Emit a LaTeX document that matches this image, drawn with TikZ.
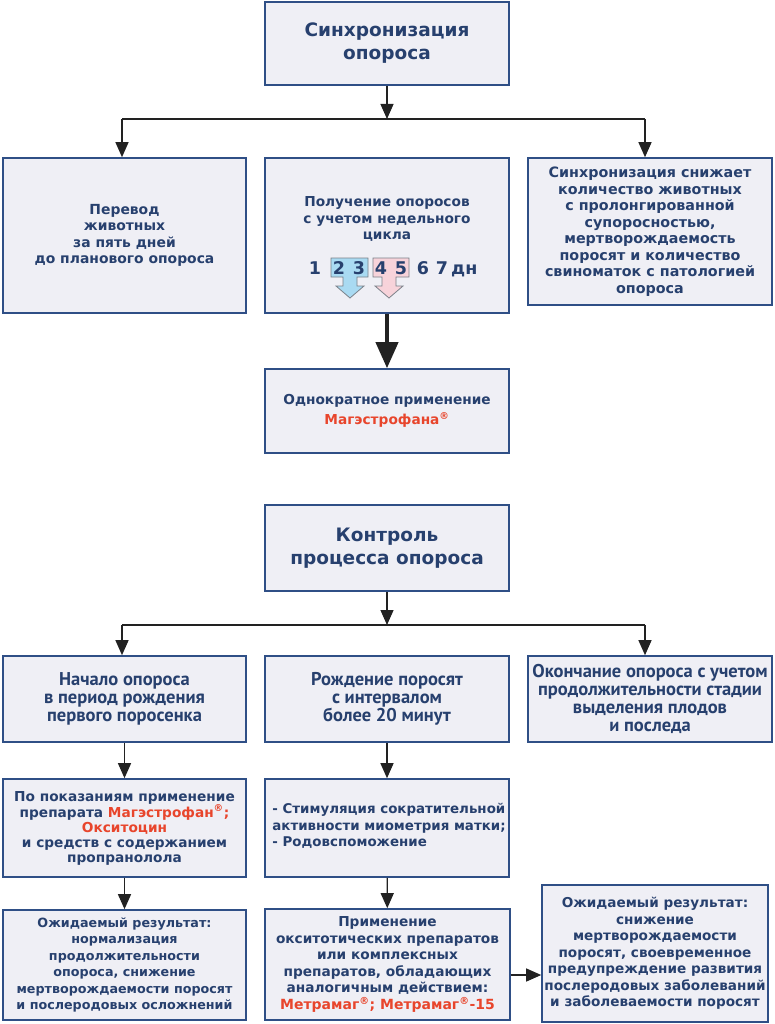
\documentclass[tikz,border=0pt]{standalone}
\usepackage{fontspec}
\setmainfont{DejaVu Sans}
\newfontfamily\condfont{PT Sans}
\usetikzlibrary{arrows.meta}
\definecolor{navy}{HTML}{27406E}
\definecolor{boxline}{HTML}{2F4F86}
\definecolor{boxfill}{HTML}{EFEFF5}
\definecolor{accent}{HTML}{E8452C}
\definecolor{arrowc}{HTML}{222222}
\definecolor{dayblue}{HTML}{A9DAF2}
\definecolor{daypink}{HTML}{F7D3DA}
\definecolor{dayedge}{HTML}{7A8088}
\begin{document}
\begin{tikzpicture}[x=1pt,y=-1pt,
  box/.style={draw=boxline, line width=1.6pt, fill=boxfill, inner sep=0pt},
  txt/.style={text=navy, font=\bfseries\fontsize{#1}{16.5}\selectfont, align=center},
  txt/.default=13.5,
  ttl/.style={text=navy, font=\bfseries\fontsize{18.5}{23}\selectfont, align=center},
  ctxt/.style={text=navy, font=\condfont\bfseries\fontsize{18.5}{18}\selectfont, align=center},
  dig/.style={text=navy, font=\bfseries\fontsize{17.5}{17.5}\selectfont, anchor=base, inner sep=0pt},
  conn/.style={draw=arrowc, line width=1.2pt},
  arr/.style={conn, -{Triangle[length=15pt,width=13pt]}},
  bigarr/.style={draw=arrowc, line width=4pt, -{Triangle[length=26pt,width=22pt]}},
  dayshape/.style={draw=dayedge, line width=0.8pt}
]
\useasboundingbox (0,0) rectangle (774,1024);

% ---------- part 1 ----------
\node[box, ttl, minimum width=244pt, minimum height=83pt] (top) at (387,43.5) {Синхронизация\\опороса};

\node[box, txt=13.9, minimum width=243pt, minimum height=155pt] (L1) at (124.5,235.5) {Перевод\\животных\\за пять дней\\до планового опороса};
\node[box, minimum width=244pt, minimum height=155pt] (M1) at (387,235.5) {};
\node[txt=13.7] (M1t) at (387,219) {Получение опоросов\\с учетом недельного\\цикла};
\node[box, txt=14.3, minimum width=244pt, minimum height=147pt] (R1) at (650,231.5) {Синхронизация снижает\\количество животных\\с пролонгированной\\супоросностью,\\мертворождаемость\\поросят и количество\\свиноматок с патологией\\опороса};

% days row
\filldraw[dayshape, fill=dayblue] (331,258) -- (368,258) -- (368,277) -- (357,277) -- (357,286) -- (364,286) -- (350,298) -- (336,286) -- (343,286) -- (343,277) -- (331,277) -- cycle;
\filldraw[dayshape, fill=daypink] (373,258) -- (409,258) -- (409,277) -- (396,277) -- (396,286) -- (403,286) -- (389,298) -- (375,286) -- (382,286) -- (382,277) -- (373,277) -- cycle;
\node[dig] (d1) at (315,274) {1};
\node[dig] (d2) at (339,274) {2};
\node[dig] (d3) at (359,274) {3};
\node[dig] (d4) at (381,274) {4};
\node[dig] (d5) at (401,274) {5};
\node[dig] (d6) at (423,274) {6};
\node[dig] (d7) at (442,274) {7};
\node[dig, anchor=base west] (dn) at (451,274) {дн};

\node[box, text=navy, align=center, font=\bfseries\fontsize{13.7}{20}\selectfont, minimum width=244pt, minimum height=84pt] (mag) at (387,411) {Однократное применение\\\textcolor{accent}{Магэстрофана\textsuperscript{®}}};

\coordinate (j1) at (387,119);
\coordinate (j1l) at (122,119);
\coordinate (j1r) at (645,119);
\draw[arr] (top) -- (j1);
\draw[conn] (j1l) -- (j1r);
\draw[arr] (j1l) -- (j1l |- L1.north);
\draw[arr] (j1r) -- (j1r |- R1.north);
\draw[bigarr] (M1) -- (mag);

% ---------- part 2 ----------
\node[box, ttl, minimum width=244pt, minimum height=86pt] (ctrl) at (387,548) {Контроль\\процесса опороса};

\node[box, ctxt, minimum width=243pt, minimum height=86pt] (L2) at (124.5,699) {Начало опороса\\в период рождения\\первого поросенка};
\node[box, ctxt, minimum width=244pt, minimum height=86pt] (M2) at (387,699) {Рождение поросят\\с интервалом\\более 20 минут};
\node[box, ctxt, minimum width=244pt, minimum height=86pt] (R2) at (650,699) {Окончание опороса с учетом\\продолжительности стадии\\выделения плодов\\и последа};

\node[box, text=navy, align=center, font=\bfseries\fontsize{13.7}{15}\selectfont, minimum width=243pt, minimum height=98pt] (L3) at (124.5,828) {По показаниям применение\\препарата \textcolor{accent}{Магэстрофан\textsuperscript{®};}\\\textcolor{accent}{Окситоцин}\\и средств с содержанием\\пропранолола};
\node[box, minimum width=244pt, minimum height=98pt] (M3) at (387,828) {};
\node[txt=13.4, align=left] (M3t) at (389,826) {- Стимуляция сократительной\\активности миометрия матки;\\- Родовспоможение};

\node[box, txt=12.7, minimum width=243pt, minimum height=110pt] (L4) at (124.5,965) {Ожидаемый результат:\\нормализация\\продолжительности\\опороса, снижение\\мертворождаемости поросят\\и послеродовых осложнений};
\node[box, txt=13.7, minimum width=245pt, minimum height=111pt] (M4) at (387.5,964.5) {Применение\\окситотических препаратов\\или комплексных\\препаратов, обладающих\\аналогичным действием:\\\textcolor{accent}{\fontsize{14}{16.5}\selectfont Метрамаг\textsuperscript{®}; Метрамаг\textsuperscript{®}-15}};
\node[box, txt=13.6, minimum width=226pt, minimum height=137pt] (R4) at (655,953.5) {Ожидаемый результат:\\снижение\\мертворождаемости\\поросят, своевременное\\предупреждение развития\\послеродовых заболеваний\\и заболеваемости поросят};

\coordinate (j2) at (387,625);
\coordinate (j2l) at (122,625);
\coordinate (j2r) at (645,625);
\draw[arr] (ctrl) -- (j2);
\draw[conn] (j2l) -- (j2r);
\draw[arr] (j2l) -- (j2l |- L2.north);
\draw[arr] (j2r) -- (j2r |- R2.north);
\draw[arr] (L2) -- (L3);
\draw[arr] (M2) -- (M3);
\draw[arr] (L3) -- (L4);
\draw[arr] (M3) -- (M4);
\draw[arr] ([yshift=-10.5pt]M4.east) -- ([yshift=-10.5pt]M4.east -| R4.west);
\end{tikzpicture}
\end{document}
